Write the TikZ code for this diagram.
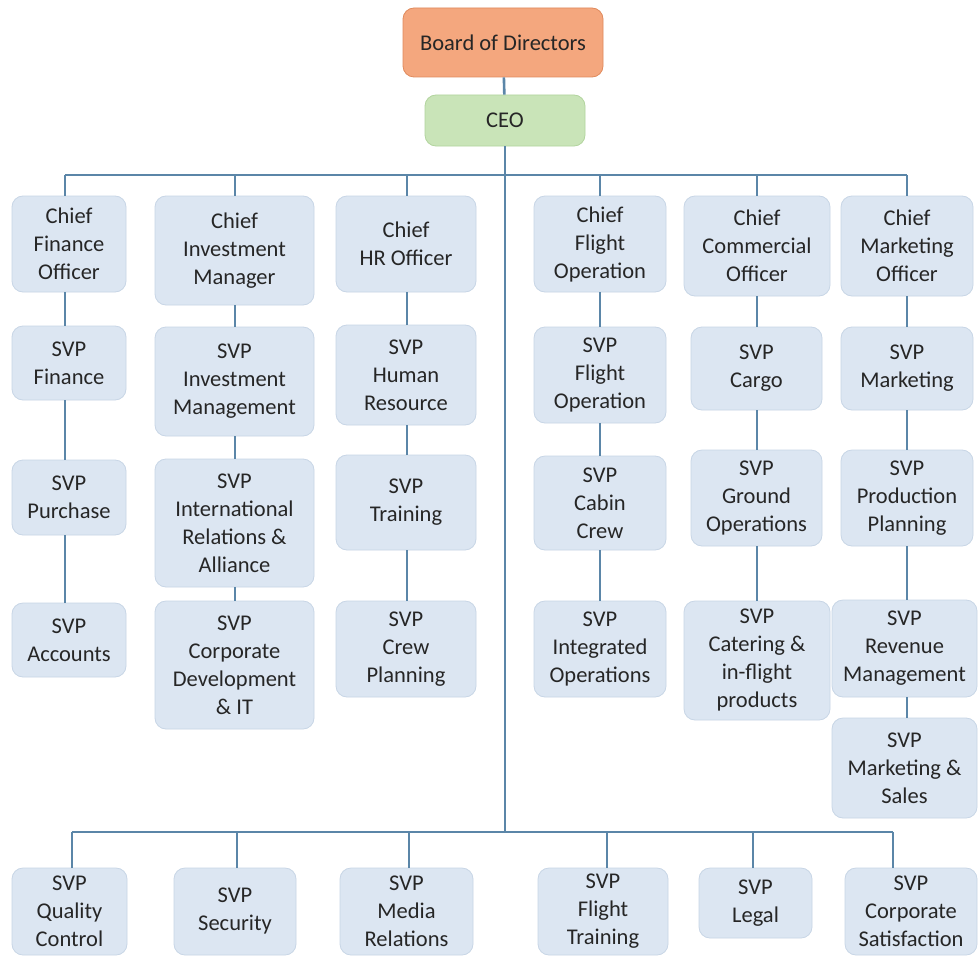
\documentclass[tikz,border=0pt]{standalone}
\usepackage{fontspec}
\setmainfont{Carlito}
\definecolor{linec}{HTML}{5B86A8}
\definecolor{boxfill}{HTML}{DCE6F2}
\definecolor{boxdraw}{HTML}{C8D6E6}
\definecolor{boardfill}{HTML}{F4A77E}
\definecolor{boarddraw}{HTML}{E08A5C}
\definecolor{ceofill}{HTML}{C9E4B8}
\definecolor{ceodraw}{HTML}{B2D49E}
\definecolor{txt}{HTML}{262626}
\tikzset{
  orgbox/.style={rectangle, rounded corners=11pt, fill=boxfill, draw=boxdraw, line width=0.8pt,
     align=center, text=txt, inner sep=1pt, font=\fontsize{22.5}{28}\selectfont},
  boardbox/.style={orgbox, fill=boardfill, draw=boarddraw},
  ceobox/.style={orgbox, fill=ceofill, draw=ceodraw},
  conn/.style={draw=linec, line width=2.6pt}
}
\newcommand{\bx}[7][orgbox]{%
  \node[#1, minimum width={(#5-#3)*1pt}, minimum height={(#6-#4)*1pt}] (#2) at ({(#3+#5)/2},{(#4+#6)/2}) {#7};}
\begin{document}
\begin{tikzpicture}[x=1pt,y=-1pt]
\useasboundingbox (0,0) rectangle (979,963);
\fill[white] (0,0) rectangle (979,963);

% top
\bx[boardbox]{board}{403}{8}{603}{77}{Board of Directors}
\bx[ceobox]{ceo}{425}{95}{585}{146}{CEO}

% chiefs
\bx{c1}{12}{196}{126}{292}{Chief\\Finance\\Officer}
\bx{c2}{155}{196}{314}{305}{Chief\\Investment\\Manager}
\bx{c3}{336}{196}{476}{292}{Chief\\HR Officer}
\bx{c4}{534}{196}{666}{292}{Chief\\Flight\\Operation}
\bx{c5}{684}{196}{830}{296}{Chief\\Commercial\\Officer}
\bx{c6}{841}{196}{973}{296}{Chief\\Marketing\\Officer}

% column 1
\bx{a1}{12}{326}{126}{400}{SVP\\Finance}
\bx{a2}{12}{460}{126}{535}{SVP\\Purchase}
\bx{a3}{12}{603}{126}{677}{SVP\\Accounts}
% column 2
\bx{b1}{155}{327}{314}{436}{SVP\\Investment\\Management}
\bx{b2}{155}{459}{314}{587}{SVP\\International\\Relations \&\\Alliance}
\bx{b3}{155}{601}{314}{729}{SVP\\Corporate\\Development\\\& IT}
% column 3
\bx{d1}{336}{325}{476}{425}{SVP\\Human\\Resource}
\bx{d2}{336}{455}{476}{550}{SVP\\Training}
\bx{d3}{336}{601}{476}{697}{SVP\\Crew\\Planning}
% column 4
\bx{e1}{534}{327}{666}{423}{SVP\\Flight\\Operation}
\bx{e2}{534}{456}{666}{550}{SVP\\Cabin\\Crew}
\bx{e3}{534}{601}{666}{697}{SVP\\Integrated\\Operations}
% column 5
\bx{f1}{691}{327}{822}{410}{SVP\\Cargo}
\bx{f2}{691}{450}{822}{546}{SVP\\Ground\\Operations}
\bx{f3}{684}{601}{830}{720}{SVP\\Catering \&\\in-flight\\products}
% column 6
\bx{g1}{841}{327}{973}{410}{SVP\\Marketing}
\bx{g2}{841}{450}{973}{546}{SVP\\Production\\Planning}
\bx{g3}{832}{600}{977}{697}{SVP\\Revenue\\Management}
\bx{g4}{832}{718}{977}{818}{SVP\\Marketing \&\\Sales}

% bottom row
\bx{h1}{12}{868}{127}{955}{SVP\\Quality\\Control}
\bx{h2}{174}{868}{296}{955}{SVP\\Security}
\bx{h3}{340}{868}{473}{955}{SVP\\Media\\Relations}
\bx{h4}{538}{868}{668}{955}{SVP\\Flight\\Training}
\bx{h5}{699}{868}{812}{938}{SVP\\Legal}
\bx{h6}{845}{868}{977}{955}{SVP\\Corporate\\Satisfaction}

% connector guide coordinates
\coordinate (topbar) at (0,175);
\coordinate (botbar) at (0,832);
\coordinate (x1) at (65,0);
\coordinate (x2) at (235,0);
\coordinate (x3) at (407,0);
\coordinate (x4) at (600,0);
\coordinate (x5) at (757,0);
\coordinate (x6) at (907,0);
\coordinate (q1) at (72,0);
\coordinate (q2) at (237,0);
\coordinate (q3) at (409,0);
\coordinate (q4) at (607,0);
\coordinate (q5) at (753,0);
\coordinate (q6) at (893,0);

% connectors
\draw[conn] (board) -- (ceo);
\draw[conn] (ceo.south) -- (ceo.south |- botbar);
\draw[conn] (x1 |- topbar) -- (x6 |- topbar);
\draw[conn] (x1 |- topbar) -- (x1 |- c1.north);
\draw[conn] (x2 |- topbar) -- (x2 |- c2.north);
\draw[conn] (x3 |- topbar) -- (x3 |- c3.north);
\draw[conn] (x4 |- topbar) -- (x4 |- c4.north);
\draw[conn] (x5 |- topbar) -- (x5 |- c5.north);
\draw[conn] (x6 |- topbar) -- (x6 |- c6.north);
\draw[conn] (q1 |- botbar) -- (q6 |- botbar);
\draw[conn] (q1 |- botbar) -- (q1 |- h1.north);
\draw[conn] (q2 |- botbar) -- (q2 |- h2.north);
\draw[conn] (q3 |- botbar) -- (q3 |- h3.north);
\draw[conn] (q4 |- botbar) -- (q4 |- h4.north);
\draw[conn] (q5 |- botbar) -- (q5 |- h5.north);
\draw[conn] (q6 |- botbar) -- (q6 |- h6.north);

\draw[conn] (x1 |- c1.south) -- (x1 |- a1.north);
\draw[conn] (x1 |- a1.south) -- (x1 |- a2.north);
\draw[conn] (x1 |- a2.south) -- (x1 |- a3.north);
\draw[conn] (x2 |- c2.south) -- (x2 |- b1.north);
\draw[conn] (x2 |- b1.south) -- (x2 |- b2.north);
\draw[conn] (x2 |- b2.south) -- (x2 |- b3.north);
\draw[conn] (x3 |- c3.south) -- (x3 |- d1.north);
\draw[conn] (x3 |- d1.south) -- (x3 |- d2.north);
\draw[conn] (x3 |- d2.south) -- (x3 |- d3.north);
\draw[conn] (x4 |- c4.south) -- (x4 |- e1.north);
\draw[conn] (x4 |- e1.south) -- (x4 |- e2.north);
\draw[conn] (x4 |- e2.south) -- (x4 |- e3.north);
\draw[conn] (x5 |- c5.south) -- (x5 |- f1.north);
\draw[conn] (x5 |- f1.south) -- (x5 |- f2.north);
\draw[conn] (x5 |- f2.south) -- (x5 |- f3.north);
\draw[conn] (x6 |- c6.south) -- (x6 |- g1.north);
\draw[conn] (x6 |- g1.south) -- (x6 |- g2.north);
\draw[conn] (x6 |- g2.south) -- (x6 |- g3.north);
\draw[conn] (x6 |- g3.south) -- (x6 |- g4.north);
\end{tikzpicture}
\end{document}
